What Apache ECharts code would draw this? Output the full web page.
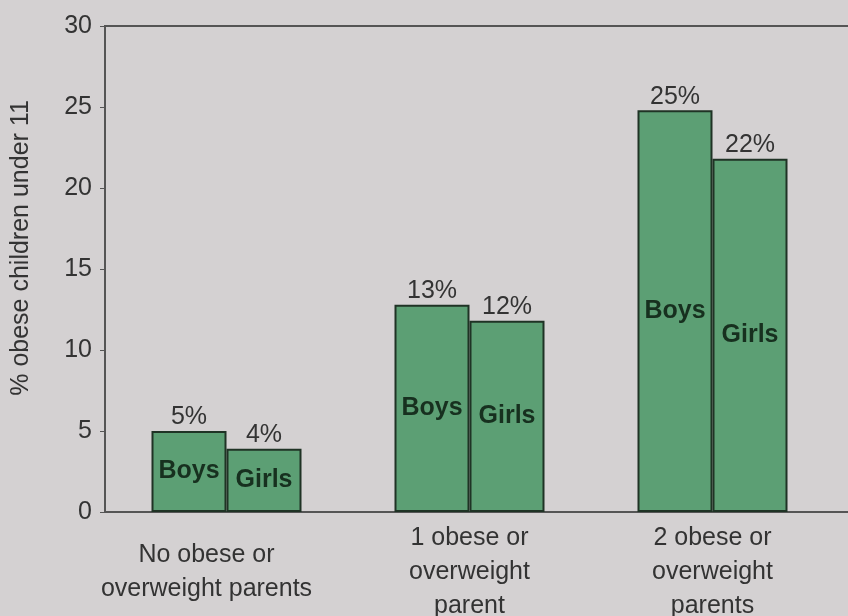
<!DOCTYPE html>
<html>
<head>
<meta charset="utf-8">
<script src="https://cdn.jsdelivr.net/npm/echarts@6/dist/echarts.min.js"></script>
<style>
html,body{margin:0;padding:0;background:#d4d1d2;}
#chart{width:848px;height:616px;}
</style>
</head>
<body>
<div id="chart"></div>
<script>
const categories = ["No obese or\noverweight parents", "1 obese or\noverweight\nparent", "2 obese or\noverweight\nparents"];
const boys = [5.0, 12.8, 24.8];
const girls = [3.9, 11.8, 21.8];
const boysLabels = ["5%", "13%", "25%"];
const girlsLabels = ["4%", "12%", "22%"];
const yTicks = [0, 5, 10, 15, 20, 25, 30];

const font = "Liberation Sans, Arial, sans-serif";
const textColor = "#333";
const barFill = "#5c9f74";
const barBorder = "#1f3325";

const chart = echarts.init(document.getElementById('chart'));

function barSeries(name, values, inner) {
  return {
    name: name, type: 'bar', xAxisIndex: 0, data: values,
    barWidth: 75, barGap: '0%',
    itemStyle: { color: barFill, borderColor: barBorder, borderWidth: 2 },
    label: { show: true, position: 'inside', formatter: inner,
      fontFamily: font, fontSize: 25, fontWeight: 'bold', color: '#17301f' }
  };
}
function pctSeries(name, values, texts) {
  return {
    name: name, type: 'bar', xAxisIndex: 1, data: values,
    barWidth: 75, barGap: '0%', silent: true,
    itemStyle: { color: 'rgba(0,0,0,0)' },
    label: { show: true, position: 'top', distance: 1,
      formatter: p => texts[p.dataIndex],
      fontFamily: font, fontSize: 25, color: textColor }
  };
}

const catLabelStyle = { color: textColor, fontFamily: font, fontSize: 25, lineHeight: 34, verticalAlign: 'middle' };
const xCatData = categories.map((c, i) => i === 0
  ? { value: c, textStyle: Object.assign({}, catLabelStyle, { padding: [0, 40, 0, 0] }) }
  : { value: c });

chart.setOption({
  backgroundColor: '#d4d1d2',
  animation: false,
  grid: { left: 105, top: 26, width: 729, bottom: 104, containLabel: false, outerBoundsMode: 'none' },
  xAxis: [{
    type: 'category', data: xCatData,
    axisLine: { show: false }, axisTick: { show: false },
    axisLabel: Object.assign({}, catLabelStyle, { margin: 60, interval: 0 })
  }, {
    type: 'category', data: categories, show: false
  }],
  yAxis: {
    type: 'value', min: yTicks[0], max: yTicks[yTicks.length - 1], interval: 5,
    name: '% obese children under 11', nameLocation: 'middle', nameGap: 71,
    nameTextStyle: { color: textColor, fontFamily: font, fontSize: 25, padding: [0, 0, 0, 42] },
    axisLine: { show: true, lineStyle: { color: '#555', width: 2 } },
    axisTick: { show: true, length: 5, lineStyle: { color: '#555' } },
    axisLabel: { color: textColor, fontFamily: font, fontSize: 25, margin: 13 },
    splitLine: { show: false }
  },
  graphic: [
    { type: 'line', shape: { x1: 104, y1: 26, x2: 848, y2: 26 }, style: { stroke: '#555', lineWidth: 2 } },
    { type: 'line', shape: { x1: 104, y1: 512, x2: 848, y2: 512 }, style: { stroke: '#555', lineWidth: 2 } }
  ],
  series: [
    barSeries('Boys', boys, 'Boys'),
    barSeries('Girls', girls, 'Girls'),
    pctSeries('BoysPct', boys, boysLabels),
    pctSeries('GirlsPct', girls, girlsLabels)
  ]
});
</script>
</body>
</html>
